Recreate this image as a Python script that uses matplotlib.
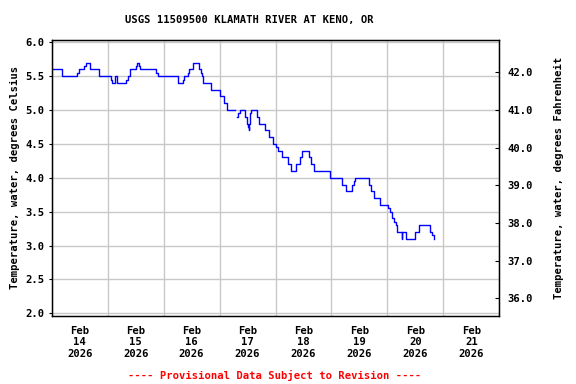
import numpy as np
import pandas as pd
import matplotlib
matplotlib.use("Agg")
import matplotlib.pyplot as plt
from matplotlib.ticker import FormatStrFormatter, MultipleLocator

# change points of the step series: hours after 2026-02-14 00:00, water temp (C)
hours = [0.0, 4.2, 4.5, 11.0, 11.6, 14.0, 14.6, 16.5, 20.4, 25.5, 26.0, 27.3, 27.9,
         32.0, 32.6, 33.6, 36.1, 36.7, 37.4, 38.0, 44.8, 45.4, 54.1, 56.4, 56.8,
         58.4, 59.0, 60.7, 63.3, 63.9, 64.4, 65.0, 68.4, 72.0, 72.3, 74.0, 75.3,
         78.4, 78.8, 79.3, 80.1, 80.6, 83.1, 83.7, 84.1, 84.5, 84.6, 84.9, 85.2,
         85.5, 88.1, 89.0, 91.4, 93.3, 95.1, 96.4, 97.0, 99.0, 101.3, 102.6, 104.6,
         106.4, 107.4, 110.4, 111.1, 112.5, 119.5, 124.7, 126.4, 128.8, 129.6,
         130.2, 136.2, 136.8, 138.3, 141.0, 144.3, 145.0, 145.8, 147.0, 147.6,
         148.1, 150.1, 150.4, 152.1, 156.0, 157.5, 162.1, 163.1, 163.8, 164.1]
temp_c = [5.6, 5.55, 5.5, 5.55, 5.6, 5.65, 5.7, 5.6, 5.5, 5.45, 5.4, 5.5, 5.4,
          5.45, 5.5, 5.6, 5.65, 5.7, 5.65, 5.6, 5.55, 5.5, 5.4, 5.45, 5.5,
          5.55, 5.6, 5.7, 5.6, 5.55, 5.5, 5.4, 5.3, 5.25, 5.2, 5.1, 5.0,
          5.0, np.nan, 4.9, 4.95, 5.0, 4.9, 4.8, 4.75, 4.7, 4.8, 4.9, 4.95,
          5.0, 4.9, 4.8, 4.7, 4.6, 4.5, 4.45, 4.4, 4.3, 4.2, 4.1, 4.2,
          4.3, 4.4, 4.3, 4.2, 4.1, 4.0, 3.9, 3.8, 3.9, 3.95,
          4.0, 3.9, 3.8, 3.7, 3.6, 3.55, 3.5, 3.4, 3.35, 3.3,
          3.2, 3.1, 3.2, 3.1, 3.2, 3.3, 3.2, 3.15, 3.1, 3.1]

day_labels = ["Feb\n14\n2026", "Feb\n15\n2026", "Feb\n16\n2026", "Feb\n17\n2026",
              "Feb\n18\n2026", "Feb\n19\n2026", "Feb\n20\n2026", "Feb\n21\n2026"]

title = "USGS 11509500 KLAMATH RIVER AT KENO, OR"
footer = "---- Provisional Data Subject to Revision ----"

plt.rcParams["font.family"] = "DejaVu Sans Mono"
plt.rcParams["font.weight"] = "bold"
plt.rcParams["font.size"] = 7.6

start = pd.Timestamp("2026-02-14")
times = start + pd.to_timedelta(hours, unit="h")

fig = plt.figure(figsize=(5.76, 3.84), dpi=100)
ax = fig.add_axes([0.0898, 0.177, 0.777, 0.720])

ax.plot(times, temp_c, drawstyle="steps-post", color="#0000ff", lw=1.0, zorder=3)

ax.set_xlim(start, start + pd.Timedelta(days=8))
ylo, yhi = 1.96, 6.04
ax.set_ylim(ylo, yhi)

# grid on midnights, labels at noon
midnights = [start + pd.Timedelta(days=i) for i in range(9)]
noons = [start + pd.Timedelta(days=i, hours=12) for i in range(8)]
ax.set_xticks(midnights)
ax.set_xticklabels([])
ax.set_xticks(noons, minor=True)
ax.set_xticklabels(day_labels, minor=True, fontweight="bold")
ax.tick_params(axis="x", which="both", length=0, pad=7)

ax.yaxis.set_major_locator(MultipleLocator(0.5))
ax.yaxis.set_major_formatter(FormatStrFormatter("%.1f"))
ax.tick_params(axis="y", direction="out", length=2, pad=3)
ax.grid(True, which="major", color="#c8c8c8", lw=1.0)
ax.set_ylabel("Temperature, water, degrees Celsius", fontweight="bold", labelpad=4)

for sp in ax.spines.values():
    sp.set_linewidth(1.0)
    sp.set_color("black")

ax2 = ax.twinx()
ax2.set_ylim(ylo * 9 / 5 + 32, yhi * 9 / 5 + 32)
ax2.set_yticks(np.arange(36, 43, 1.0))
ax2.yaxis.set_major_formatter(FormatStrFormatter("%.1f"))
ax2.tick_params(axis="y", direction="in", length=3, pad=6)
ax2.set_ylabel("Temperature, water, degrees Fahrenheit", fontweight="bold", labelpad=15)

fig.text(0.433, 0.948, title, ha="center", va="center", fontweight="bold")
fig.text(0.476, 0.023, footer, ha="center", va="center", color="#ff0000",
         fontweight="bold")

fig.savefig("out.png", dpi=100)
